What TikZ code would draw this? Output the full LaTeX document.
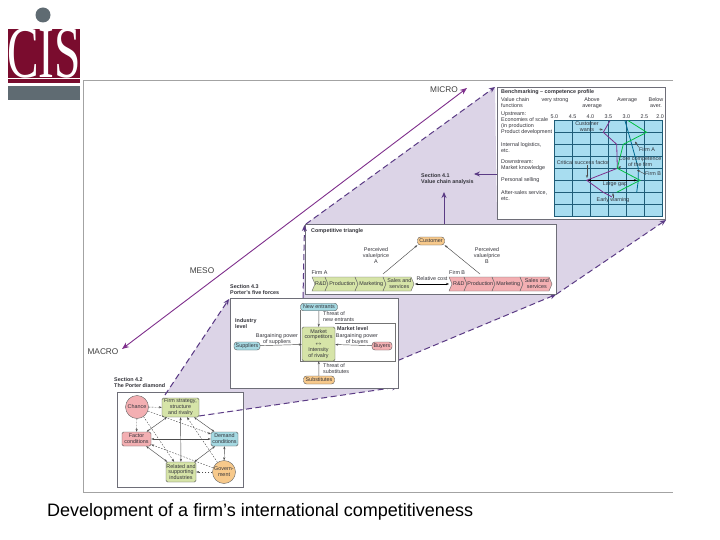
\documentclass[tikz,border=0pt]{standalone}
\usepackage{fontspec}
\setmainfont{Liberation Sans}
\newfontfamily\logofont{Liberation Serif}
\usetikzlibrary{arrows.meta,shapes.geometric}
\definecolor{frameg}{HTML}{A3A3A3}
\definecolor{lav}{HTML}{DCD4E7}
\definecolor{dashp}{HTML}{5B3B85}
\definecolor{axisp}{HTML}{7F2F8C}
\definecolor{panelg}{HTML}{6E6E78}
\definecolor{logored}{HTML}{7A0C2E}
\definecolor{logogray}{HTML}{5F6B72}
\definecolor{gridblue}{HTML}{A8DDF0}
\definecolor{gridline}{HTML}{1F5D78}
\definecolor{gr}{HTML}{D6E4A8}
\definecolor{pk}{HTML}{F3AFB2}
\definecolor{org}{HTML}{F7C98B}
\definecolor{bl}{HTML}{A5D9E2}
\definecolor{txt}{HTML}{33333A}
\tikzset{
  tiny/.style={font=\fontsize{5.4}{5.9}\selectfont,text=txt,inner sep=0pt,align=center},
  tinyl/.style={tiny,align=left,anchor=west},
  boldl/.style={font=\fontsize{5.4}{6}\selectfont\bfseries,text=txt,inner sep=0pt,align=left,anchor=west},
  panel/.style={draw=panelg,line width=.7pt,fill=white},
  axislab/.style={font=\fontsize{8.3}{9}\selectfont,text=black!75,inner sep=0pt},
  dashb/.style={draw=dashp,line width=1pt,dash pattern=on 6pt off 3.5pt},
  dashtip/.style={dashb,-{Stealth[length=6pt,width=5pt]}},
  secarrow/.style={draw=dashp,line width=.9pt,-{Stealth[length=6pt,width=5pt]}},
  box/.style={draw=black!65,line width=.4pt,rounded corners=1.5pt,inner sep=0pt,font=\fontsize{5.4}{5.9}\selectfont,text=txt,align=center},
  pill/.style={box,rounded corners=3pt},
  link/.style={draw=black!70,line width=.45pt,{Stealth[length=3pt,width=2.2pt]}-{Stealth[length=3pt,width=2.2pt]}},
  dlink/.style={draw=black!70,line width=.4pt,dash pattern=on 1.6pt off 1.4pt,-{Stealth[length=3pt,width=2.2pt]}},
  oneway/.style={draw=black!70,line width=.45pt,-{Stealth[length=3pt,width=2.2pt]}},
  gridl/.style={draw=gridline,line width=.55pt},
  prof/.style={line width=.8pt},
}
\newcommand{\chev}[7]{% name x1 x2 y1 y2 fill text
  \path[draw=black!60,line width=.4pt,fill=#6] (#2,#4) -- (#3-3,#4) -- (#3,{(#4+#5)/2}) -- (#3-3,#5) -- (#2,#5) -- (#2+3,{(#4+#5)/2}) -- cycle;
  \node[tiny] (#1) at ({(#2+#3)/2+.8},{(#4+#5)/2}) {#7};}
\begin{document}
\begin{tikzpicture}[x=1pt,y=-1pt]
\useasboundingbox (0,0) rectangle (720,540);
\fill[white] (0,0) rectangle (720,540);
% logo
\fill[logogray] (43,15) circle (7.5);
\fill[logored] (8,29) rectangle (80,83);
\fill[logogray] (8,86) rectangle (80,100.5);
\node[text=white,inner sep=0pt,font=\fontsize{74}{74}\logofont,xscale=.64,yscale=1] (logo) at (44,53.5) {CIS};
\fill[white] (8,78.5) rectangle (80,79.5);
% frame
\draw[frameg,line width=.9pt] (673,80.5) -- (83.5,80.5) -- (83.5,492) -- (673,492);
\node[axislab] (lmicro) at (444,89.5) {MICRO};
\node[axislab] (lmeso) at (202,271) {MESO};
\node[axislab] (lmacro) at (103,351.5) {MACRO};
\coordinate (micro) at (467,88);
\coordinate (macro) at (122,349);
\draw[axisp,line width=.9pt,{Stealth[length=7pt,width=5.5pt]}-{Stealth[length=7pt,width=5.5pt]}] (macro) -- (micro);
\path[panel] (117,392) rectangle (243,487);
% lavender
\coordinate (a1) at (495,87);
\coordinate (a2) at (306,224);
\coordinate (a3) at (303,298);
\coordinate (a2b) at (304.5,225);
\coordinate (a4) at (229,299);
\coordinate (a5) at (165,395);
\coordinate (a6) at (199,416);
\coordinate (a7) at (398,387);
\coordinate (a8) at (398,360.5);
\coordinate (a9) at (556,294.5);
\coordinate (a10) at (666,220);
\fill[lav] (a1) -- (a2) -- (a3) -- (a4) -- (a5) -- (165,392) -- (243,392) -- (243,410) -- (a6) -- (a7) -- (a8) -- (a9) -- (a10) -- (497,219) -- cycle;
\draw[panelg,line width=.7pt] (117,392) -- (243,392) -- (243,410);
\path[dashtip] (a2) -- (a1);
\path[dashtip] (a8) -- (a9);
\path[dashtip] (a9) -- (a10);
\path[dashtip] (a5) -- (a4);
\path[dashtip] (a6) -- (a7);
% section labels
\node[boldl] (s41) at (421,179) {Section 4.1\\Value chain analysis};
\node[boldl] (s43) at (230,290) {Section 4.3\\Porter's five forces};
\node[boldl] (s42) at (114,383) {Section 4.2\\The Porter diamond};
% benchmark
\node[panel,minimum width=168pt,minimum height=132pt,inner sep=0pt] (bench) at (581,153) {};
\draw[secarrow] (bench.west |- 0,174) -- (s41.east |- 0,174);
\node[boldl] at (501,92) {Benchmarking -- competence profile};
\node[tinyl] at (501,103) {Value chain\\functions};
\node[tiny] at (555,100) {very strong};
\node[tiny] at (592,103) {Above\\average};
\node[tiny] at (627,100) {Average};
\node[tiny] at (656,103) {Below\\aver.};
\node[tinyl,anchor=north west] at (501,111.5) {Upstream:\\Economies of scale\\(in production\\Product development};
\node[tinyl] at (501,147.5) {Internal logistics,\\etc.};
\node[tinyl] at (501,165) {Downstream:\\Market knowledge};
\node[tinyl] at (501,180.5) {Personal selling};
\node[tinyl] at (501,196) {After-sales service,\\etc.};
\foreach \v/\x in {5.0/554.3,4.5/572.7,4.0/590.3,3.5/608.3,3.0/626.3,2.5/644.3,2.0/660}{\node[tiny] at (\x,117) {\v};}
\fill[gridblue] (554.3,120.7) rectangle (662.7,216.7);
\foreach \y in {120.7,132.3,144.3,156.3,168.3,180.3,192.3,204.3,216.7}{\draw[gridl] (554.3,\y) -- (662.7,\y);}
\foreach \x in {554.3,572.7,590.3,608.3,626.3,644.3,662.7}{\draw[gridl] (\x,120.7) -- (\x,216.7);}
\draw[prof,draw=axisp] (610,120.7) -- (603.3,132.3) -- (616.7,144.3) -- (617.3,168.3) -- (586.7,180.3) -- (603.3,192.3) -- (612,197);
\draw[prof,draw=teal!85!blue] (625,120.7) -- (628.3,132.3) -- (631.7,144.3) -- (638.3,168.3) -- (638.3,180.3) -- (636.7,192.3);
\draw[prof,draw=green!50!teal] (628.3,120.7) -- (646.7,132.3) -- (623.3,144.3) -- (617.3,168.3) -- (640,180.3) -- (616.7,192.3);
\node[tiny] (cw) at (587,127) {Customer\\wants};
\draw[oneway] (cw.east |- 0,129) -- (603,130);
\node[tiny] (fa) at (647,149.5) {Firm A};
\draw[oneway] (fa.north west) -- (635,141.5);
\node[tiny] (cc) at (640,162) {Core competence\\of the firm};
\draw[oneway] (cc.south west) -- (618,167);
\node[tiny] (csf) at (583,162.7) {Critical success factor};
\draw[oneway] (587,165.5) -- (587,178);
\node[tiny] (fb) at (653,174) {Firm B};
\draw[oneway] (fb.west) -- (637,170);
\node[tiny] (lg) at (615,184.5) {Large gap};
\draw[link,draw=black] (588,180.3) -- (637,180.3);
\node[tiny] (ew) at (613,200.5) {Early warning};
\draw[oneway] (ew.north) -- (613,193);
% competitive triangle
\node[panel,minimum width=251pt,minimum height=70pt,inner sep=0pt] (tri) at (431,259) {};
\path[dashtip] (a3) -- (a2b);
\draw[secarrow] (tri.north -| 444,0) -- (444,192);
\node[boldl] at (311,231) {Competitive triangle};
\node[pill,fill=org,minimum width=27pt,minimum height=8pt] (cust) at (431,241) {Customer};
\node[tiny] at (376,255.5) {Perceived\\value/price\\A};
\node[tiny] at (487,255.5) {Perceived\\value/price\\B};
\node[tinyl] at (311.5,272.5) {Firm A};
\node[tinyl] at (449,272.5) {Firm B};
\node[tiny] at (432,278.5) {Relative cost};
\chev{ra}{312}{328}{277}{291}{gr}{R\&D}
\chev{pa}{325}{358}{277}{291}{gr}{Production}
\chev{ma}{355}{386}{277}{291}{gr}{Marketing}
\chev{sa}{383}{414}{277}{291}{gr}{Sales and\\services}
\chev{rb}{449}{467}{277}{291}{pk}{R\&D}
\chev{pb}{464}{495}{277}{291}{pk}{Production}
\chev{mb}{492}{523}{277}{291}{pk}{Marketing}
\chev{sb}{520}{552}{277}{291}{pk}{Sales and\\services}
\coordinate (rcl) at (415,284);
\coordinate (rcr) at (449,284);
\draw[link,draw=black] (rcl) -- (rcr);
\coordinate (ta) at (383,274);
\coordinate (tb) at (480,274);
\draw[oneway] (ta) -- (cust.south west);
\draw[oneway] (tb) -- (cust.south east);
% porter
\node[panel,minimum width=167.5pt,minimum height=89.5pt,inner sep=0pt] (por) at (314.5,343.5) {};
\draw[draw=black!55,line width=.4pt] (300.5,310) -- (300.5,361) -- (395,361) -- (395,323.5) -- (335,323.5);
\node[boldl] at (235,323.5) {Industry\\level};
\node[pill,fill=bl,minimum width=37pt,minimum height=7.5pt] (ne) at (319,307) {New entrants};
\node[box,fill=gr,minimum width=33pt,minimum height=34pt] (mc) at (318.5,344) {Market\\competitors\\[1pt]$\leftrightarrow$\\Intensity\\of rivalry};
\node[pill,fill=bl,minimum width=26pt,minimum height=8pt] (sup) at (247,346) {Suppliers};
\node[pill,fill=pk,minimum width=20pt,minimum height=8pt] (buy) at (382,346) {Buyers};
\node[pill,fill=org,minimum width=31pt,minimum height=8pt] (sub) at (319,380) {Substitutes};
\draw[oneway] (sup) -- (mc);
\draw[oneway] (buy) -- (mc);
\draw[oneway] (ne) -- (mc);
\draw[oneway] (sub) -- (mc);
\node[tinyl] at (323,316.5) {Threat of\\new entrants};
\node[tinyl] at (323,369) {Threat of\\substitutes};
\node[tiny] at (277,339.5) {Bargaining power\\of suppliers};
\node[boldl] at (337,329) {Market level};
\node[tiny] at (357,339.5) {Bargaining power\\of buyers};
% diamond
\node[circle,draw=black!60,line width=.4pt,fill=pk,minimum width=23pt,inner sep=0pt,font=\fontsize{5.4}{5.9}\selectfont,text=txt] (ch) at (137,407) {Chance};
\node[box,fill=gr,minimum width=37pt,minimum height=19pt] (fs) at (180.5,407.5) {Firm strategy,\\structure\\and rivalry};
\node[box,fill=pk,minimum width=29pt,minimum height=14pt] (fc) at (136.5,439) {Factor\\conditions};
\node[box,fill=bl,minimum width=27pt,minimum height=14pt] (dc) at (224.5,439) {Demand\\conditions};
\node[box,fill=gr,minimum width=30pt,minimum height=20pt] (rs) at (181,472) {Related and\\supporting\\industries};
\node[circle,draw=black!60,line width=.4pt,fill=org,minimum width=23pt,inner sep=0pt,align=center,font=\fontsize{5.4}{5.9}\selectfont,text=txt] (gv) at (224,472) {Govern-\\ment};
\draw[link] (fs) -- (fc);
\draw[link] (fs) -- (dc);
\draw[link] (fs) -- (rs);
\draw[link] (fc) -- (dc);
\draw[link] (fc) -- (rs);
\draw[link] (dc) -- (rs);
\draw[link] (dc) -- (gv);
\draw[dlink] (ch) -- (fs);
\draw[dlink] (ch) -- (fc);
\draw[dlink] (ch) -- (dc);
\draw[dlink] (ch) -- (rs);
\draw[dlink] (gv) -- (rs);
\draw[dlink] (gv) -- (fc);
\draw[dlink] (gv) -- (fs);
% title
\node[anchor=base west,inner sep=0pt,font=\fontsize{18}{20}\selectfont,text=black] (title) at (47,516) {Development of a firm’s international competitiveness};
\end{tikzpicture}
\end{document}
